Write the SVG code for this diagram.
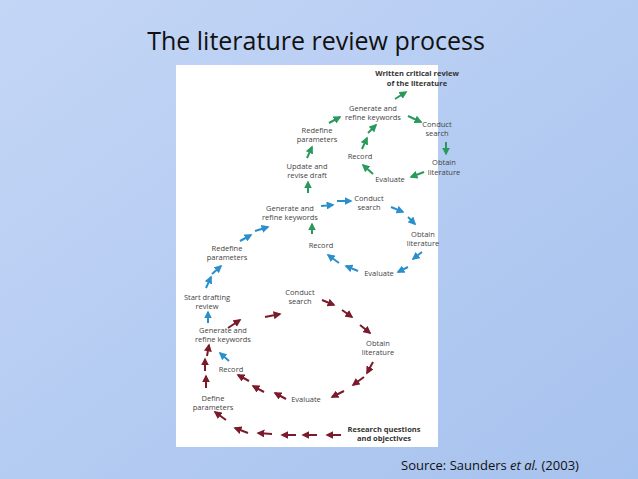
<svg xmlns="http://www.w3.org/2000/svg" width="638" height="479" viewBox="0 0 638 479">
<defs>
<linearGradient id="bg" x1="0" y1="0" x2="1" y2="1"><stop offset="0" stop-color="#c4d6f6"/><stop offset="1" stop-color="#a6c2ee"/></linearGradient>
<marker id="mr" viewBox="0 0 10 10" refX="8" refY="5" markerWidth="4" markerHeight="4" orient="auto"><path d="M0,0L10,5L0,10z" fill="#7a1a2a"/></marker>
<marker id="mb" viewBox="0 0 10 10" refX="8" refY="5" markerWidth="4" markerHeight="4" orient="auto"><path d="M0,0L10,5L0,10z" fill="#2a8fcc"/></marker>
<marker id="mg" viewBox="0 0 10 10" refX="8" refY="5" markerWidth="4" markerHeight="4" orient="auto"><path d="M0,0L10,5L0,10z" fill="#2a9a5c"/></marker>
</defs>
<style>
text{font-family:"Open Sans","DejaVu Sans",sans-serif;font-size:7.5px;fill:#444;text-anchor:middle}
.b{font-weight:bold;fill:#333}
.r{stroke:#7a1a2a;stroke-width:2;marker-end:url(#mr)}
.bl{stroke:#2a8fcc;stroke-width:2;marker-end:url(#mb)}
.g{stroke:#2a9a5c;stroke-width:2;marker-end:url(#mg)}
</style>
<rect width="638" height="479" fill="url(#bg)"/>
<text x="316" y="50" style="font-family:'Open Sans','Noto Sans',sans-serif;font-size:25px;fill:#111">The literature review process</text>
<rect x="176" y="65" width="262" height="382" fill="#fff"/>
<text x="490" y="470" style="font-family:'Open Sans','Noto Sans',sans-serif;font-size:13px;fill:#111">Source: Saunders <tspan font-style="italic">et al.</tspan> (2003)</text>
<g id="nodes">
<g id="n1"><text class="b" x="417" y="76">Written critical review</text><text class="b" x="417" y="86">of the literature</text></g>
<g id="n2"><text x="373" y="111">Generate and</text><text x="373" y="120">refine keywords</text></g>
<g id="n3"><text x="317" y="133">Redefine</text><text x="317" y="142">parameters</text></g>
<g id="n4"><text x="437" y="127">Conduct</text><text x="437" y="136">search</text></g>
<g id="n5"><text x="360" y="159">Record</text></g>
<g id="n6"><text x="444" y="165">Obtain</text><text x="444" y="175">literature</text></g>
<g id="n7"><text x="307" y="169">Update and</text><text x="307" y="178">revise draft</text></g>
<g id="n8"><text x="390" y="182">Evaluate</text></g>
<g id="n9"><text x="290" y="211">Generate and</text><text x="290" y="220">refine keywords</text></g>
<g id="n10"><text x="369" y="201">Conduct</text><text x="369" y="210">search</text></g>
<g id="n11"><text x="423" y="237">Obtain</text><text x="423" y="246">literature</text></g>
<g id="n12"><text x="321" y="248">Record</text></g>
<g id="n13"><text x="227" y="251">Redefine</text><text x="227" y="260">parameters</text></g>
<g id="n14"><text x="379" y="276">Evaluate</text></g>
<g id="n15"><text x="207" y="300">Start drafting</text><text x="207" y="309">review</text></g>
<g id="n16"><text x="300" y="295">Conduct</text><text x="300" y="304">search</text></g>
<g id="n17"><text x="223" y="333">Generate and</text><text x="223" y="342">refine keywords</text></g>
<g id="n18"><text x="378" y="346">Obtain</text><text x="378" y="355">literature</text></g>
<g id="n19"><text x="231" y="372">Record</text></g>
<g id="n20"><text x="213" y="401">Define</text><text x="213" y="410">parameters</text></g>
<g id="n21"><text x="306" y="402">Evaluate</text></g>
<g id="n22"><text class="b" x="384" y="432">Research questions</text><text class="b" x="384" y="441">and objectives</text></g>
</g>
<g id="connectors">
<line class="r" x1="341" y1="435" x2="327" y2="435"/>
<line class="r" x1="317" y1="435" x2="303" y2="435"/>
<line class="r" x1="296" y1="435" x2="282" y2="435"/>
<line class="r" x1="272" y1="434" x2="258" y2="433"/>
<line class="r" x1="248" y1="433" x2="235" y2="428"/>
<line class="r" x1="226" y1="420" x2="215" y2="412"/>
<line class="r" x1="206" y1="388" x2="206" y2="376"/>
<line class="r" x1="205" y1="371" x2="205" y2="359"/>
<line class="r" x1="207" y1="356" x2="209" y2="345"/>
<line class="r" x1="228" y1="328" x2="240" y2="320"/>
<line class="r" x1="265" y1="317" x2="280" y2="314"/>
<line class="r" x1="322" y1="300" x2="334" y2="305"/>
<line class="r" x1="342" y1="310" x2="352" y2="317"/>
<line class="r" x1="360" y1="325" x2="370" y2="333"/>
<line class="r" x1="373" y1="362" x2="367" y2="373"/>
<line class="r" x1="364" y1="377" x2="353" y2="385"/>
<line class="r" x1="344" y1="391" x2="332" y2="397"/>
<line class="r" x1="286" y1="399" x2="275" y2="393"/>
<line class="r" x1="264" y1="392" x2="253" y2="386"/>
<line class="r" x1="249" y1="381" x2="238" y2="375"/>
<line class="bl" x1="229" y1="361" x2="220" y2="353"/>
<line class="bl" x1="208" y1="323" x2="208" y2="312"/>
<line class="bl" x1="206" y1="288" x2="211" y2="277"/>
<line class="bl" x1="212" y1="274" x2="221" y2="266"/>
<line class="bl" x1="240" y1="241" x2="251" y2="235"/>
<line class="bl" x1="255" y1="231" x2="268" y2="227"/>
<line class="bl" x1="321" y1="206" x2="333" y2="205"/>
<line class="bl" x1="337" y1="201" x2="351" y2="201"/>
<line class="bl" x1="391" y1="207" x2="403" y2="212"/>
<line class="bl" x1="408" y1="217" x2="415" y2="224"/>
<line class="bl" x1="422" y1="252" x2="413" y2="259"/>
<line class="bl" x1="408" y1="267" x2="398" y2="272"/>
<line class="bl" x1="358" y1="271" x2="346" y2="266"/>
<line class="bl" x1="339" y1="263" x2="328" y2="255"/>
<line class="g" x1="312" y1="234" x2="312" y2="224"/>
<line class="g" x1="308" y1="193" x2="308" y2="182"/>
<line class="g" x1="307" y1="158" x2="312" y2="147"/>
<line class="g" x1="329" y1="123" x2="340" y2="117"/>
<line class="g" x1="362" y1="149" x2="367" y2="138"/>
<line class="g" x1="368" y1="133" x2="376" y2="125"/>
<line class="g" x1="395" y1="99" x2="406" y2="92"/>
<line class="g" x1="408" y1="116" x2="421" y2="122"/>
<line class="g" x1="446" y1="142" x2="446" y2="154"/>
<line class="g" x1="424" y1="172" x2="411" y2="177"/>
<line class="g" x1="373" y1="174" x2="363" y2="165"/>
</g>
</svg>
